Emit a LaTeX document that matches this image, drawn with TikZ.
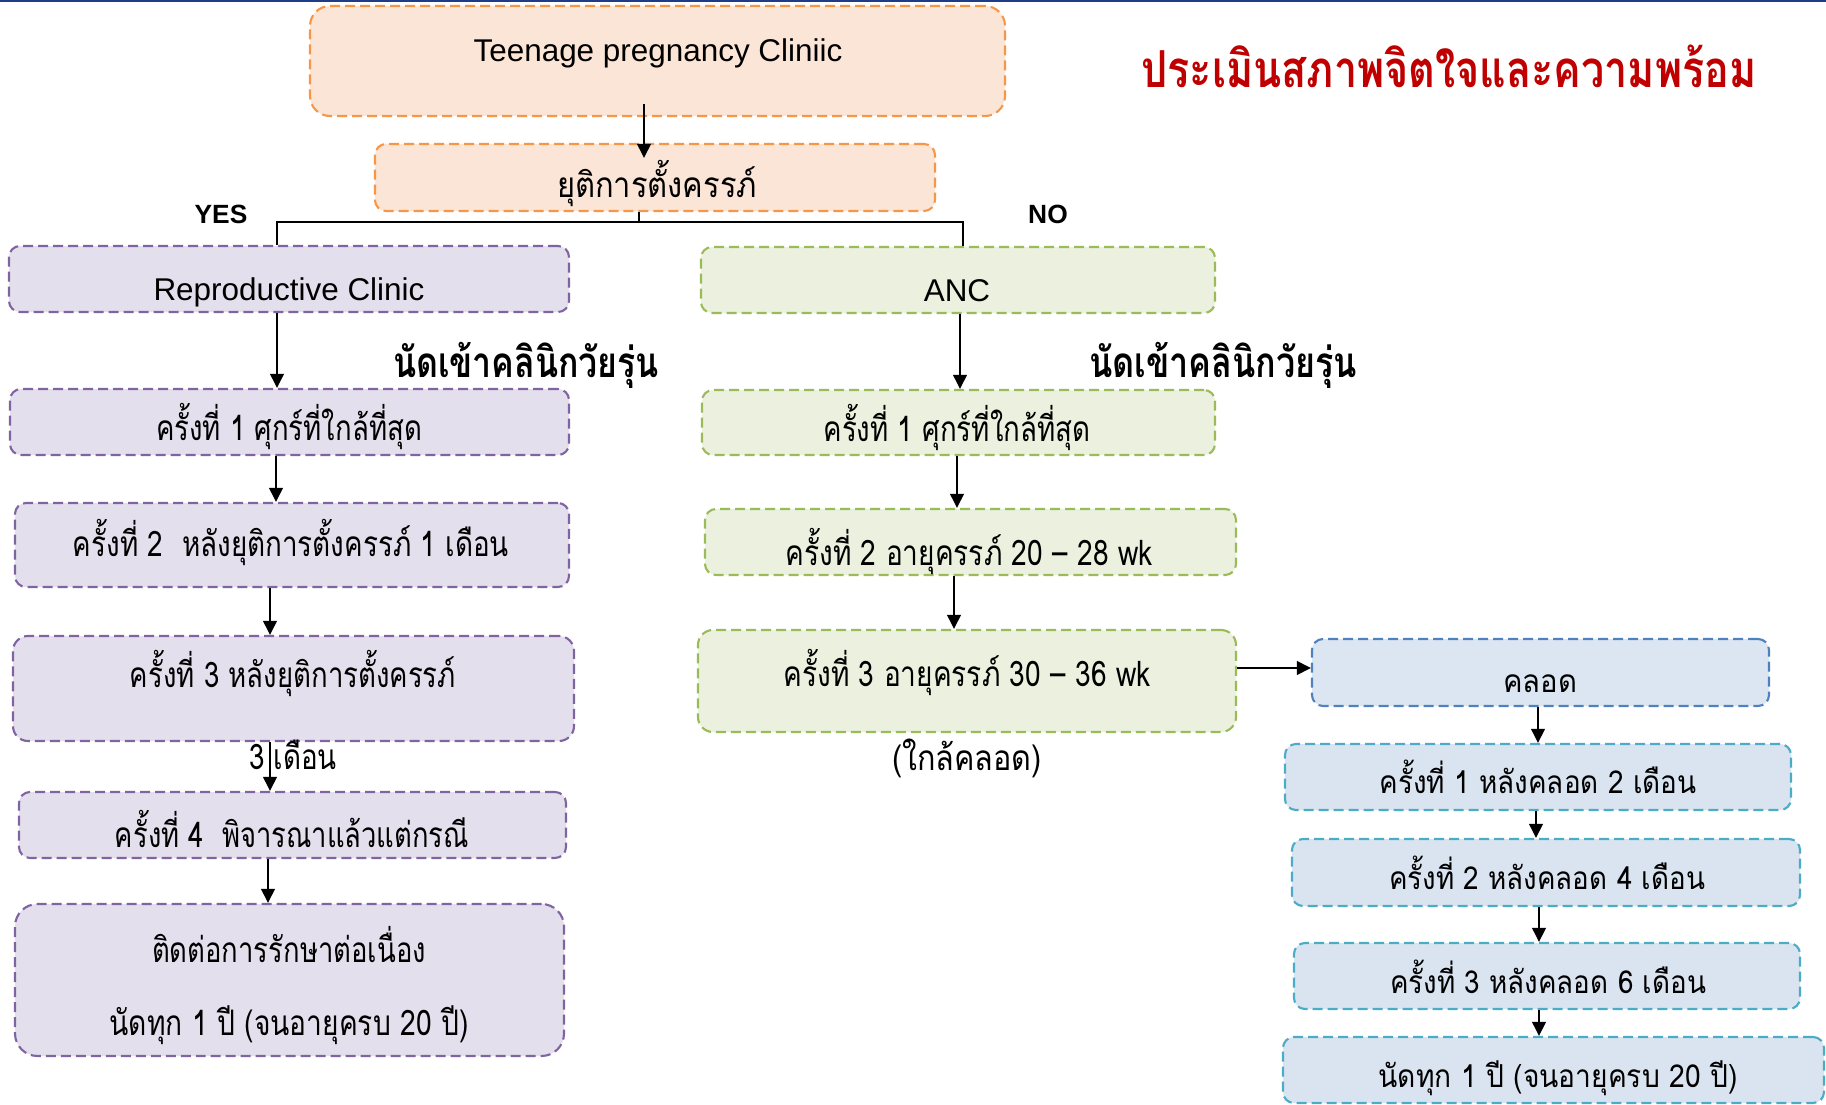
\documentclass[tikz,border=0pt]{standalone}
\usepackage{fontspec}
\usepackage{graphicx}
\usetikzlibrary{arrows.meta,fit,calc}
\setmainfont{Liberation Sans}
\newfontfamily\thaifont[Script=Thai]{Loma}
\newdimen\px \px=0.02cm
\newcommand\fw[2]{\resizebox{#1\px}{\height}{#2}}
\newcommand\tcond{\thaifont\fontsize{20}{23}\selectfont}
\newcommand\tblue{\thaifont\fontsize{18}{21}\selectfont}
\newcommand\thead{\thaifont\bfseries\fontsize{24}{27}\selectfont}
\newcommand\ttitle{\thaifont\bfseries\fontsize{29}{33}\selectfont}
\newcommand\latinbig{\fontsize{17.9}{21}\selectfont}
\definecolor{orD}{HTML}{F79646}
\definecolor{orF}{HTML}{FBE5D6}
\definecolor{puD}{HTML}{8064A2}
\definecolor{puF}{HTML}{E4DFEC}
\definecolor{grD}{HTML}{9BBB59}
\definecolor{grF}{HTML}{EBF1DE}
\definecolor{blD}{HTML}{4F81BD}
\definecolor{blF}{HTML}{DCE6F2}
\definecolor{cyD}{HTML}{4BACC6}
\definecolor{cyF}{HTML}{DAE3F0}
\definecolor{titleRed}{HTML}{C00000}
\definecolor{topNavy}{HTML}{1F3C88}
\tikzset{
  bx/.style={draw, line width=1.2pt, dash pattern=on 0.2cm off 0.1cm, rounded corners=0.22cm, inner sep=0pt},
  orbox/.style={bx, draw=orD, fill=orF},
  pubox/.style={bx, draw=puD, fill=puF},
  grbox/.style={bx, draw=grD, fill=grF},
  blbox/.style={bx, draw=blD, fill=blF},
  cybox/.style={bx, draw=cyD, fill=cyF},
  txt/.style={inner sep=0pt, anchor=center},
  arr/.style={-{Triangle[length=0.28cm,width=0.27cm]}, line width=1.3pt},
  brk/.style={line width=1.4pt}
}
\begin{document}
\begin{tikzpicture}[x=0.02cm,y=-0.02cm]
\useasboundingbox (0,0) rectangle (1826,1105);
\fill[white] (0,0) rectangle (1826,1105);
\draw[topNavy, line width=1.2pt] (0,1) -- (1826,1);

% boxes
\node[orbox, fit={(310,6) (1005,116)}, rounded corners=0.4cm] (teen) {};
\node[orbox, fit={(375,144) (935,211)}] (yuti) {};
\node[pubox, fit={(9,246) (569,312)}] (rep) {};
\node[grbox, fit={(701,247) (1215,313)}] (anc) {};
\node[pubox, fit={(10,389) (569,455)}] (l1) {};
\node[pubox, fit={(15,503) (569,587)}] (l2) {};
\node[pubox, fit={(13,636) (574,741)}, rounded corners=0.3cm] (l3) {};
\node[pubox, fit={(19,792) (566,858)}] (l4) {};
\node[pubox, fit={(15,904) (564,1056)}, rounded corners=0.45cm] (l5) {};
\node[grbox, fit={(702,390) (1215,455)}] (g1) {};
\node[grbox, fit={(705,509) (1236,575)}] (g2) {};
\node[grbox, fit={(698,630) (1236,732)}, rounded corners=0.3cm] (g3) {};
\node[blbox, fit={(1312,639) (1769,706)}] (klod) {};
\node[cybox, fit={(1285,744) (1791,810)}] (b1) {};
\node[cybox, fit={(1292,839) (1800,906)}] (b2) {};
\node[cybox, fit={(1294,943) (1800,1009)}] (b3) {};
\node[cybox, fit={(1283,1037) (1824,1103)}] (b4) {};

% texts
\node[txt] (tteen) at (658,53) {\latinbig Teenage pregnancy Cliniic};
\node[txt, text=titleRed] (ttitle) at (1449,66) {\fw{615}{\ttitle ประเมินสภาพจิตใจและความพร้อม}};
\node[txt] (tyuti) at (657,183) {\fw{200}{\tcond ยุติการตั้งครรภ์}};
\node[txt] (tyes) at (221,214) {\fontsize{15}{18}\selectfont\bfseries YES};
\node[txt] (tno) at (1048,214) {\fontsize{15}{18}\selectfont\bfseries NO};
\node[txt] (trep) at (289,292) {\latinbig Reproductive Clinic};
\node[txt] (tanc) at (957,291) {\latinbig ANC};
\node[txt] (hl) at (526,365) {\fw{266}{\thead นัดเข้าคลินิกวัยรุ่น}};
\node[txt] (hr) at (1223,365) {\fw{268}{\thead นัดเข้าคลินิกวัยรุ่น}};
\node[txt] (tl1) at (289,426) {\fw{266}{\tcond ครั้งที่ 1 ศุกร์ที่ใกล้ที่สุด}};
\node[txt] (tl2) at (291,542) {\fw{436}{\tcond ครั้งที่ 2~~หลังยุติการตั้งครรภ์ 1 เดือน}};
\node[txt] (tl3) at (293,673) {\fw{326}{\tcond ครั้งที่ 3 หลังยุติการตั้งครรภ์}};
\node[txt] (t3m) at (293,755) {\fw{88}{\tcond 3 เดือน}};
\node[txt] (tl4) at (292,829) {\fw{354}{\tcond ครั้งที่ 4~~พิจารณาแล้วแต่กรณี}};
\node[txt] (tl5a) at (289,945) {\fw{274}{\tcond ติดต่อการรักษาต่อเนื่อง}};
\node[txt] (tl5b) at (289,1025) {\fw{359}{\tcond นัดทุก 1 ปี (จนอายุครบ 20 ปี)}};
\node[txt] (tg1) at (957,427) {\fw{267}{\tcond ครั้งที่ 1 ศุกร์ที่ใกล้ที่สุด}};
\node[txt] (tg2) at (969,551) {\fw{367}{\tcond ครั้งที่ 2 อายุครรภ์ 20 – 28 wk}};
\node[txt] (tg3) at (967,672) {\fw{367}{\tcond ครั้งที่ 3 อายุครรภ์ 30 – 36 wk}};
\node[txt] (tnear) at (967,758) {\fw{150}{\tcond (ใกล้คลอด)}};
\node[txt] (tklod) at (1540,684) {\fw{74}{\tblue คลอด}};
\node[txt] (tb1) at (1538,777) {\fw{317}{\tblue ครั้งที่ 1 หลังคลอด 2 เดือน}};
\node[txt] (tb2) at (1547,873) {\fw{316}{\tblue ครั้งที่ 2 หลังคลอด 4 เดือน}};
\node[txt] (tb3) at (1548,977) {\fw{316}{\tblue ครั้งที่ 3 หลังคลอด 6 เดือน}};
\node[txt] (tb4) at (1558,1078) {\fw{359}{\tblue นัดทุก 1 ปี (จนอายุครบ 20 ปี)}};

% connectors
\draw[arr] ($(teen.south -| 644,0)+(0,-13)$) -- ($(yuti.north -| 644,0)+(0,15)$);
\coordinate (bj) at (639,222);
\coordinate (bl) at (277,222);
\coordinate (br) at (963,222);
\draw[brk] (yuti.south -| bj) -- (bj);
\draw[brk] (rep.north -| bl) -- (bl) -- (br) -- (anc.north -| br);
\draw[arr] (rep.south -| 277,0) -- (l1.north -| 277,0);
\draw[arr] (l1.south -| 276,0) -- (l2.north -| 276,0);
\draw[arr] (l2.south -| 270,0) -- (l3.north -| 270,0);
\draw[arr] (l3.south -| 270,0) -- (l4.north -| 270,0);
\draw[arr] (l4.south -| 268,0) -- (l5.north -| 268,0);
\draw[arr] (anc.south -| 960,0) -- (g1.north -| 960,0);
\draw[arr] (g1.south -| 957,0) -- (g2.north -| 957,0);
\draw[arr] (g2.south -| 954,0) -- (g3.north -| 954,0);
\draw[arr] (g3.east |- 0,668) -- (klod.west |- 0,668);
\draw[arr] (klod.south -| 1538,0) -- (b1.north -| 1538,0);
\draw[arr] (b1.south -| 1536,0) -- (b2.north -| 1536,0);
\draw[arr] (b2.south -| 1539,0) -- (b3.north -| 1539,0);
\draw[arr] (b3.south -| 1539,0) -- (b4.north -| 1539,0);
\end{tikzpicture}
\end{document}
